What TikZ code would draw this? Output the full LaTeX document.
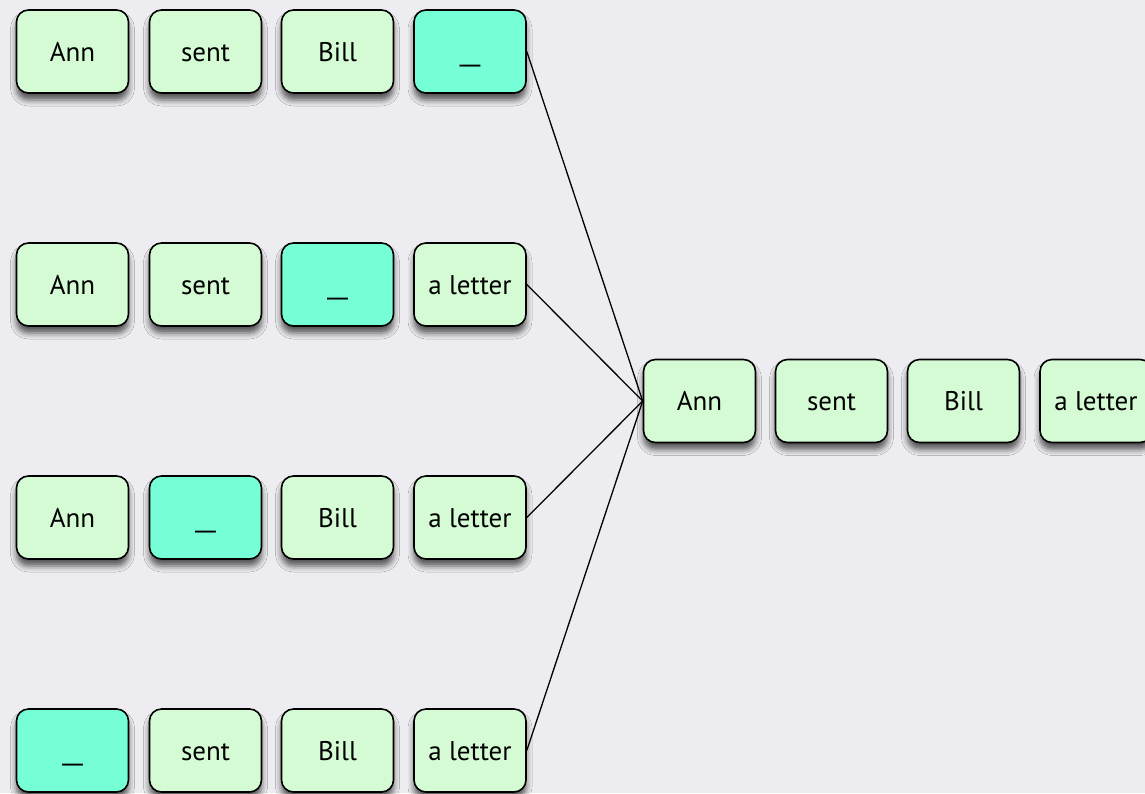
\documentclass[tikz,border=0pt]{standalone}
\usepackage{fontspec}
\usepackage{graphicx}
\setmainfont{PT Sans}
\usetikzlibrary{shadows.blur}
\definecolor{bg}{RGB}{237,237,241}
\definecolor{boxg}{RGB}{213,251,213}
\definecolor{boxh}{RGB}{118,255,214}
\newcommand{\blank}{\scalebox{1.9}[1]{\_}}
\tikzset{
  word/.style={rectangle, rounded corners=12pt, draw=black, line width=1.6pt,
    fill=boxg, minimum width=112pt, minimum height=83pt, inner sep=0pt,
    text height=19pt, text depth=0pt,
    font=\fontsize{27}{32}\selectfont,
    blur shadow={shadow xshift=0pt, shadow yshift=-7pt, shadow blur radius=6pt, shadow opacity=65}},
  gap/.style={word, fill=boxh},
  link/.style={draw=black, line width=1.3pt}
}
\begin{document}
\begin{tikzpicture}[x=1pt,y=-1pt]
\fill[bg] (0,0) rectangle (1145,793);
\useasboundingbox (0,0) rectangle (1145,793);
\clip (0,0) rectangle (1145,793);
% row 1
\node[word] (a1) at (72.5,51.5) {Ann};
\node[word] (b1) at (205.5,51.5) {sent};
\node[word] (c1) at (337.5,51.5) {Bill};
\node[gap]  (d1) at (470,51.5) {\blank};
% row 2
\node[word] (a2) at (72.5,284.5) {Ann};
\node[word] (b2) at (205.5,284.5) {sent};
\node[gap]  (c2) at (337.5,284.5) {\blank};
\node[word] (d2) at (470,284.5) {a letter};
% row 3
\node[word] (a3) at (72.5,517.5) {Ann};
\node[gap]  (b3) at (205.5,517.5) {\blank};
\node[word] (c3) at (337.5,517.5) {Bill};
\node[word] (d3) at (470,517.5) {a letter};
% row 4
\node[gap]  (a4) at (72.5,750.5) {\blank};
\node[word] (b4) at (205.5,750.5) {sent};
\node[word] (c4) at (337.5,750.5) {Bill};
\node[word] (d4) at (470,750.5) {a letter};
% result
\node[word] (r1) at (699.5,401) {Ann};
\node[word] (r2) at (831.5,401) {sent};
\node[word] (r3) at (963.5,401) {Bill};
\node[word] (r4) at (1096,401) {a letter};
% links
\draw[link] (d1.east) -- (r1.west);
\draw[link] (d2.east) -- (r1.west);
\draw[link] (d3.east) -- (r1.west);
\draw[link] (d4.east) -- (r1.west);
\end{tikzpicture}
\end{document}
